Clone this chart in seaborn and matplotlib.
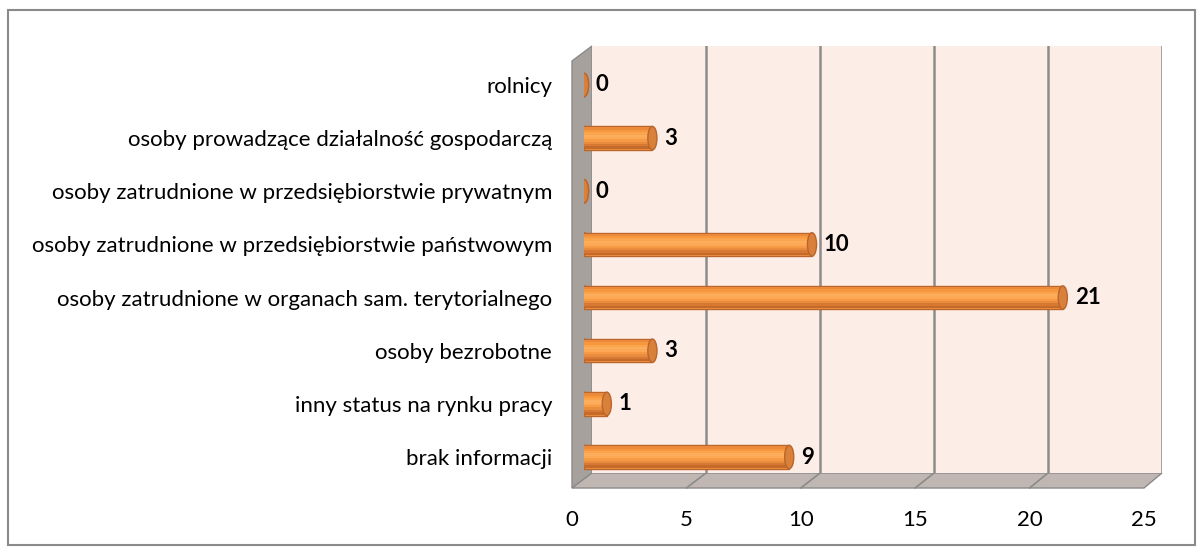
import matplotlib
matplotlib.use("Agg")
import matplotlib.pyplot as plt
import seaborn as sns
from matplotlib.patches import Polygon, Ellipse, Rectangle

# dane
categories = [
    "rolnicy",
    "osoby prowadzące działalność gospodarczą",
    "osoby zatrudnione w przedsiębiorstwie prywatnym",
    "osoby zatrudnione w przedsiębiorstwie państwowym",
    "osoby zatrudnione w organach sam. terytorialnego",
    "osoby bezrobotne",
    "inny status na rynku pracy",
    "brak informacji",
]
values = [0, 3, 0, 10, 21, 3, 1, 9]
x_ticks = [0, 5, 10, 15, 20, 25]

sns.set_style("white")
plt.rcParams["font.family"] = ["Lato", "DejaVu Sans"]
plt.rcParams["text.color"] = "black"
plt.rcParams["xtick.color"] = "black"
plt.rcParams["ytick.color"] = "black"

W, H = 1203, 552
fig = plt.figure(figsize=(W / 100, H / 100), dpi=100)


def box(x0, y0, x1, y1):
    return [x0 / W, 1 - y1 / H, (x1 - x0) / W, (y1 - y0) / H]


# tlo: ramka, sciana boczna, podloga (w pikselach)
bg = fig.add_axes([0, 0, 1, 1], zorder=0)
bg.set_xlim(0, W)
bg.set_ylim(H, 0)
bg.axis("off")
bg.add_patch(Rectangle((8, 10), 1187, 535, fill=False, edgecolor="#8a8a8a", lw=1.5))
bg.add_patch(Polygon([(572, 61), (592, 46), (592, 473), (572, 488)],
                     facecolor="#A7A19E", edgecolor="#8a8a8a", lw=1))
bg.add_patch(Polygon([(572, 488), (592, 473), (1162, 473), (1144, 488)],
                     facecolor="#C1B7B2", edgecolor="#8a8a8a", lw=1))
for t in x_ticks[1:-1]:
    bg.plot([592 + t * 22.8, 572 + t * 22.88], [473, 488], color="#8a8a8a", lw=1.2)

# sciana tylna z siatka
wall = fig.add_axes(box(592, 46, 1162, 473), zorder=1)
wall.set_facecolor("#FDEDE7")
wall.set_xlim(0, 25)
wall.set_ylim(0, 1)
for t in x_ticks[1:]:
    wall.axvline(t, color="#8c8c8c", lw=1.8)
wall.set_xticks([])
wall.set_yticks([])
for s in wall.spines.values():
    s.set_visible(False)

# slupki (walce)
ax = fig.add_axes(box(584, 58.4, 1154, 483.6), zorder=2)
ax.set_facecolor("none")
bw = 0.44
for i, v in enumerate(values):
    ax.add_patch(Ellipse((0, i), 0.4, bw, facecolor="#F2913F", edgecolor="#B9652B", lw=1, zorder=1))
sns.barplot(x=values, y=categories, orient="h", color="#F4923F", width=bw,
            edgecolor="#B9652B", linewidth=1, saturation=1, ax=ax, zorder=2)

# cieniowanie walca - paski od gory do dolu
shades = ["#EC8A3C", "#F7983F", "#FBA44E", "#FDAE5C", "#FCA854",
          "#F69A45", "#EA8C3D", "#D87933", "#C46A2B"]
sh = (bw - 0.04) / len(shades)
pos = list(range(len(values)))
for k, c in enumerate(shades):
    ax.barh([p - bw / 2 + 0.02 + (k + 0.5) * sh for p in pos], values, height=sh * 1.05,
            left=0, color=c, lw=0, zorder=3)
for i, v in enumerate(values):
    ax.add_patch(Ellipse((v, i), 0.4, bw, facecolor="#D9803A", edgecolor="#B9652B", lw=1, zorder=4))
    ax.annotate(str(v), (v, i), xytext=(12, 0), textcoords="offset pixels",
                ha="left", va="center", fontsize=16, fontweight="bold", color="black")
ax.set_xlim(0, 25)
ax.set_ylim(len(values) - 0.5, -0.5)
ax.set_xticks([])
ax.set_xlabel("")
ax.set_ylabel("")
ax.tick_params(axis="y", length=0, pad=23, labelsize=16)
for s in ax.spines.values():
    s.set_visible(False)

# etykiety osi x (przednia krawedz)
lab = fig.add_axes(box(572, 487, 1144, 488), zorder=2)
lab.set_facecolor("none")
lab.set_xlim(0, 25)
lab.set_xticks(x_ticks)
lab.set_xticklabels([str(t) for t in x_ticks])
lab.set_yticks([])
lab.tick_params(axis="x", length=0, pad=16, labelsize=16)
for s in lab.spines.values():
    s.set_visible(False)

fig.savefig("out.png", dpi=100)
